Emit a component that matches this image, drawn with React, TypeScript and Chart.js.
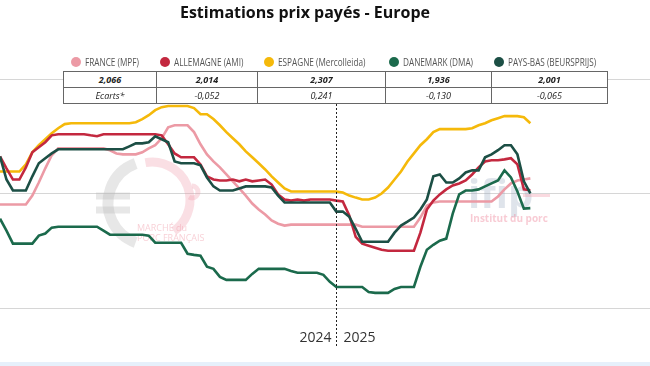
import React, { useEffect, useRef } from "react";
import { Chart, registerables } from "chart.js";

Chart.register(...registerables);

// Weekly index (0 = first week of 2024 shown, 52 = first week of 2025)
const weeks: number[] = Array.from({ length: 83 }, (_, i) => i);
const yearLabels = ["2024", "2025"];
const yearBoundary = 52;

const seriesNames = [
  "FRANCE (MPF)",
  "ALLEMAGNE (AMI)",
  "ESPAGNE (Mercolleida)",
  "DANEMARK (DMA)",
  "PAYS-BAS (BEURSPRIJS)",
];
const seriesColors = ["#ec9aa5", "#c3283f", "#f5b90a", "#1b6a4c", "#1c4f45"];

const lastPrices = ["2,066", "2,014", "2,307", "1,936", "2,001"];
const ecarts = ["Ecarts*", "-0,052", "0,241", "-0,130", "-0,065"];

const france = [
  1.952, 1.952, 1.952, 1.952, 1.952, 1.991, 2.048, 2.11, 2.167,
  2.197, 2.197, 2.197, 2.197, 2.197, 2.197, 2.197, 2.197,
  2.189, 2.175, 2.171, 2.171, 2.171, 2.18, 2.197, 2.211, 2.241, 2.289,
  2.298, 2.298, 2.298, 2.268, 2.215, 2.171, 2.14, 2.114, 2.083, 2.053,
  2.022, 1.991, 1.956, 1.93, 1.908, 1.882, 1.868, 1.86,
  1.864, 1.864, 1.864, 1.864, 1.864, 1.864, 1.864, 1.864, 1.864, 1.864, 1.864,
  1.855, 1.855, 1.855, 1.855, 1.855, 1.855, 1.855, 1.855, 1.855,
  1.895, 1.947, 1.961,
  1.965, 1.965, 1.965, 1.965, 1.965, 1.965, 1.965, 1.965, 1.965,
  1.987, 2.018, 2.044, 2.057, 2.061, 2.066,
];

const allemagne = [
  2.162, 2.11, 2.061, 2.061, 2.114, 2.18, 2.202, 2.224, 2.254,
  2.259, 2.259, 2.259, 2.259, 2.259, 2.254, 2.25,
  2.259, 2.259, 2.259, 2.259, 2.259, 2.259, 2.259, 2.259, 2.259,
  2.254, 2.215, 2.175, 2.158, 2.158, 2.158,
  2.127, 2.075, 2.061, 2.057, 2.057, 2.061, 2.053, 2.061, 2.053, 2.057,
  2.061, 2.039, 1.996, 1.974, 1.969, 1.974, 1.969,
  1.974, 1.974, 1.974, 1.974,
  1.969, 1.965, 1.904, 1.811, 1.781, 1.772, 1.763, 1.754,
  1.75, 1.75, 1.75, 1.75, 1.75,
  1.829, 1.93, 1.969, 1.996, 2.018, 2.035, 2.044, 2.057, 2.083, 2.114,
  2.14, 2.145, 2.145, 2.149, 2.154, 2.127, 2.018, 2.014,
];

const espagne = [
  2.096, 2.096, 2.096, 2.096, 2.127, 2.18, 2.211, 2.237, 2.263, 2.285, 2.303,
  2.307, 2.307, 2.307, 2.307, 2.307, 2.307, 2.307, 2.307, 2.307, 2.307,
  2.311, 2.325, 2.342, 2.364, 2.377,
  2.382, 2.382, 2.382, 2.382,
  2.373, 2.346, 2.346, 2.325, 2.298, 2.268, 2.241, 2.215, 2.184, 2.158,
  2.132, 2.105, 2.075, 2.048, 2.022,
  2.009, 2.009, 2.009, 2.009, 2.009, 2.009, 2.009, 2.009,
  2.004, 1.991, 1.982, 1.974, 1.974, 1.982, 2.0, 2.026, 2.061, 2.096,
  2.14, 2.175, 2.211, 2.237, 2.268,
  2.281, 2.281, 2.281, 2.281, 2.281,
  2.285, 2.298, 2.307, 2.32, 2.329,
  2.338, 2.338, 2.338, 2.333, 2.307,
];

const danemark = [
  1.89, 1.838, 1.781, 1.781, 1.781, 1.781, 1.816, 1.825, 1.851,
  1.855, 1.855, 1.855, 1.855, 1.855, 1.855, 1.855,
  1.838, 1.82, 1.82, 1.82, 1.82, 1.82, 1.82, 1.816,
  1.785, 1.785, 1.785, 1.785, 1.785,
  1.737, 1.732, 1.728, 1.68, 1.671, 1.636,
  1.623, 1.623, 1.623, 1.623, 1.649,
  1.671, 1.671, 1.671, 1.671, 1.671, 1.662,
  1.654, 1.654, 1.654, 1.654, 1.645, 1.614,
  1.592, 1.592, 1.592, 1.592, 1.592, 1.57,
  1.566, 1.566, 1.566, 1.583, 1.592, 1.592, 1.592,
  1.68, 1.754, 1.776, 1.794, 1.803, 1.912, 1.996, 2.013, 2.013, 2.018,
  2.031, 2.044, 2.057, 2.101, 2.07, 2.009, 1.934, 1.936,
];

const paysBas = [
  2.162, 2.061, 2.013, 2.013, 2.013, 2.075, 2.132, 2.154, 2.175,
  2.193, 2.193, 2.193, 2.193, 2.193, 2.193, 2.193, 2.193, 2.193, 2.193, 2.193,
  2.206, 2.219, 2.219, 2.224, 2.25, 2.237, 2.224, 2.14,
  2.132, 2.132, 2.132, 2.123, 2.07, 2.031,
  2.013, 2.013, 2.013, 2.022, 2.031, 2.031, 2.031, 2.031, 2.026, 1.991,
  1.961, 1.961, 1.961, 1.961, 1.961, 1.961, 1.961, 1.961,
  1.921, 1.921, 1.899, 1.846,
  1.789, 1.789, 1.789, 1.789, 1.789,
  1.829, 1.86, 1.877, 1.895, 1.93, 1.974, 2.075, 2.083, 2.048, 2.048,
  2.066, 2.092, 2.101, 2.101, 2.158, 2.171, 2.189, 2.211, 2.211, 2.171,
  2.053, 2.001,
];

const seriesData = [france, allemagne, espagne, danemark, paysBas];
// drawing order: first dataset is drawn on top
const drawOrder = [4, 3, 1, 0, 2];

const watermarkPlugin = {
  id: "watermarks",
  beforeDatasetsDraw(chart: any) {
    const ctx = chart.ctx as CanvasRenderingContext2D;
    ctx.save();
    // Marché du Porc Français logo
    ctx.lineCap = "butt";
    ctx.strokeStyle = "rgba(185,185,185,0.35)";
    ctx.lineWidth = 11;
    ctx.beginPath();
    ctx.arc(150, 203, 42, (110 * Math.PI) / 180, (250 * Math.PI) / 180);
    ctx.stroke();
    ctx.lineWidth = 7;
    ctx.beginPath();
    ctx.moveTo(96, 196);
    ctx.lineTo(130, 196);
    ctx.moveTo(96, 210);
    ctx.lineTo(130, 210);
    ctx.stroke();
    ctx.strokeStyle = "rgba(240,150,165,0.3)";
    ctx.lineWidth = 9;
    ctx.beginPath();
    ctx.arc(152, 200, 38, (-100 * Math.PI) / 180, (55 * Math.PI) / 180);
    ctx.stroke();
    ctx.lineWidth = 5;
    ctx.beginPath();
    ctx.arc(192, 192, 6, (-90 * Math.PI) / 180, (120 * Math.PI) / 180);
    ctx.stroke();
    ctx.font = "9px 'Open Sans'";
    ctx.textBaseline = "middle";
    ctx.fillStyle = "rgba(240,150,165,0.45)";
    ctx.fillText("MARCHÉ du", 137, 228);
    ctx.fillText("PORC FRANÇAIS", 137, 238);
    // ifip logo
    ctx.font = "bold 40px 'Open Sans'";
    ctx.fillStyle = "rgba(150,165,190,0.3)";
    ctx.textBaseline = "alphabetic";
    ctx.fillText("ifip", 468, 208);
    ctx.fillStyle = "rgba(240,150,165,0.35)";
    ctx.fillRect(523, 194, 27, 3);
    ctx.font = "bold 10px 'Open Sans'";
    ctx.fillStyle = "rgba(240,140,160,0.45)";
    ctx.fillText("Institut du porc", 470, 222);
    ctx.restore();
  },
};

const yearPlugin = {
  id: "years",
  afterDatasetsDraw(chart: any) {
    const ctx = chart.ctx as CanvasRenderingContext2D;
    const x = Math.round(chart.scales.x.getPixelForValue(yearBoundary)) + 0.5;
    ctx.save();
    ctx.strokeStyle = "#222";
    ctx.lineWidth = 1;
    ctx.setLineDash([2, 2]);
    ctx.beginPath();
    ctx.moveTo(x, 80);
    ctx.lineTo(x, 346);
    ctx.stroke();
    ctx.setLineDash([]);
    ctx.font = "14px 'Open Sans'";
    ctx.fillStyle = "#333";
    ctx.textBaseline = "middle";
    ctx.textAlign = "right";
    ctx.fillText(yearLabels[0], x - 5, 338);
    ctx.textAlign = "left";
    ctx.fillText(yearLabels[1], x + 7, 338);
    ctx.restore();
  },
};

const legendX = [76, 165, 269, 394, 499];
const colEdges = [63, 157, 258, 386, 492, 608];

export default function App() {
  const ref = useRef<HTMLCanvasElement>(null);

  useEffect(() => {
    document.body.style.margin = "0";
    const datasets = drawOrder.map((k) => ({
      label: seriesNames[k],
      data: seriesData[k],
      borderColor: seriesColors[k],
      backgroundColor: seriesColors[k],
      borderWidth: 2.6,
      pointRadius: 0,
      tension: 0,
      fill: false,
    }));
    const chart = new Chart(ref.current as HTMLCanvasElement, {
      type: "line",
      data: { labels: weeks, datasets },
      options: {
        animation: false,
        responsive: false,
        maintainAspectRatio: false,
        layout: { padding: { top: 79, bottom: 58, left: 0, right: 0 } },
        plugins: {
          legend: { display: false },
          tooltip: { enabled: false },
          title: { display: false },
        },
        scales: {
          x: { type: "linear", min: 0, max: 100.5, display: false },
          y: {
            min: 1.5,
            max: 2.5,
            ticks: { display: false, stepSize: 0.5 },
            grid: { color: "#d6d6d6", drawTicks: false, lineWidth: 1 },
            border: { display: false },
            afterFit: (s: any) => {
              s.width = 0;
            },
          },
        },
      },
      plugins: [watermarkPlugin, yearPlugin],
    } as any);
    return () => chart.destroy();
  }, []);

  const cell = (i: number, text: string, bold: boolean, top: number) => (
    <div
      key={`${top}-${i}`}
      style={{
        position: "absolute",
        left: colEdges[i],
        top,
        width: colEdges[i + 1] - colEdges[i] + (i === 0 ? 0 : 1),
        height: 17,
        boxSizing: "border-box",
        border: "1px solid #666",
        marginLeft: i === 0 ? 0 : -1,
        background: "#fff",
        fontSize: 9,
        fontStyle: "italic",
        fontWeight: bold ? 700 : 400,
        color: "#222",
        textAlign: "center",
        lineHeight: "15px",
        zIndex: 2,
      }}
    >
      {text}
    </div>
  );

  return (
    <div
      style={{
        position: "fixed",
        left: 0,
        top: 0,
        width: 650,
        height: 366,
        overflow: "hidden",
        background: "#fff",
        fontFamily: "'Open Sans', sans-serif",
      }}
    >
      <canvas ref={ref} width={650} height={366} style={{ position: "absolute", left: 0, top: 0 }} />
      <div
        style={{
          position: "absolute",
          left: 0,
          top: 1,
          width: 610,
          textAlign: "center",
          fontSize: 16,
          fontWeight: 700,
          lineHeight: "22px",
          color: "#111",
        }}
      >
        Estimations prix payés - Europe
      </div>
      {seriesNames.map((n, i) => (
        <div key={n} style={{ position: "absolute", left: legendX[i] - 5, top: 56, height: 12, whiteSpace: "nowrap" }}>
          <span
            style={{
              position: "absolute",
              left: 0,
              top: 1,
              width: 10,
              height: 10,
              borderRadius: 5,
              background: seriesColors[i],
            }}
          />
          <span
            style={{
              position: "absolute",
              left: 14,
              top: -1,
              fontSize: 10,
              color: "#555",
              lineHeight: "14px",
              transform: "scaleX(0.82)",
              transformOrigin: "left center",
            }}
          >
            {n}
          </span>
        </div>
      ))}
      {lastPrices.map((p, i) => cell(i, p, true, 71))}
      {ecarts.map((p, i) => cell(i, p, false, 87))}
      <div style={{ position: "absolute", left: 0, top: 362, width: 650, height: 4, background: "#e6f0fb" }} />
    </div>
  );
}
